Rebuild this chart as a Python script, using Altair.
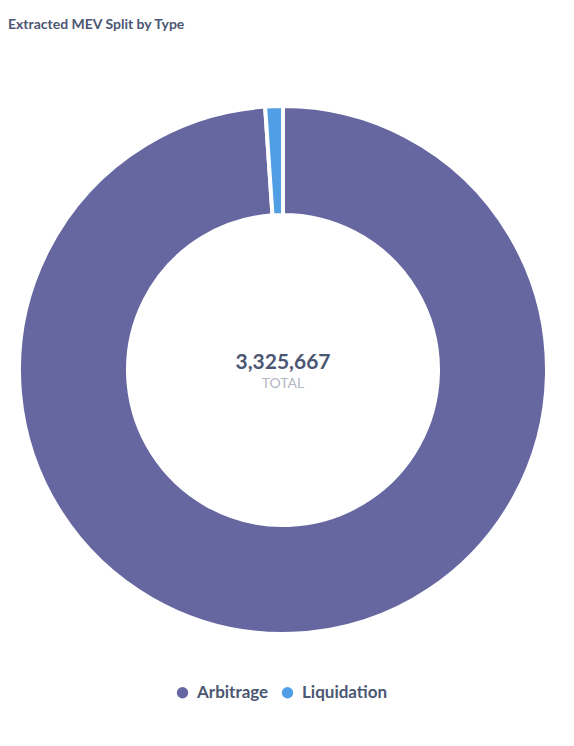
import altair as alt
import pandas as pd

types = ["Arbitrage", "Liquidation"]
values = [3289767, 35900]
colors = ["#6667A1", "#509EE3"]

df = pd.DataFrame({"type": types, "value": values, "order": list(range(len(types)))})
total = int(sum(values))
tdf = pd.DataFrame({"total": [f"{total:,}"], "label": ["TOTAL"]})

CX, CY = 275, 332

arc = alt.Chart(df).mark_arc(
    innerRadius=155, outerRadius=264, stroke="white", strokeWidth=4
).encode(
    theta=alt.Theta("value:Q", stack=True),
    order=alt.Order("order:Q"),
    color=alt.Color(
        "type:N",
        scale=alt.Scale(domain=types, range=colors),
        sort=types,
        legend=alt.Legend(
            title=None, orient="none", direction="horizontal",
            legendX=166, legendY=646,
            symbolType="circle", symbolSize=130, symbolStrokeWidth=0,
            labelFont="Lato", labelFontSize=17, labelFontWeight=700,
            labelColor="#4C5773", columnPadding=10, labelOffset=6,
        ),
    ),
    x=alt.value(CX),
    y=alt.value(CY),
)

num = alt.Chart(tdf).mark_text(
    font="Lato", fontSize=21, fontWeight=700, color="#4C5773", baseline="alphabetic"
).encode(text="total:N", x=alt.value(CX), y=alt.value(CY - 1))

lab = alt.Chart(tdf).mark_text(
    font="Lato", fontSize=14, fontWeight=400, color="#B2B6C0", baseline="alphabetic"
).encode(text="label:N", x=alt.value(CX), y=alt.value(CY + 18))

chart = alt.layer(arc, num, lab).properties(
    width=558, height=692,
    background="white",
    autosize=alt.AutoSizeParams(type="none"),
    padding={"left": 0, "top": 30, "right": 0, "bottom": 0},
    title=alt.TitleParams(
        "Extracted MEV Split by Type", anchor="start", font="Lato",
        fontSize=14, fontWeight=700, color="#4C5773", offset=6,
    ),
).configure_view(strokeWidth=0)

chart.save("out.html", embed_options={"renderer": "svg", "actions": False})
